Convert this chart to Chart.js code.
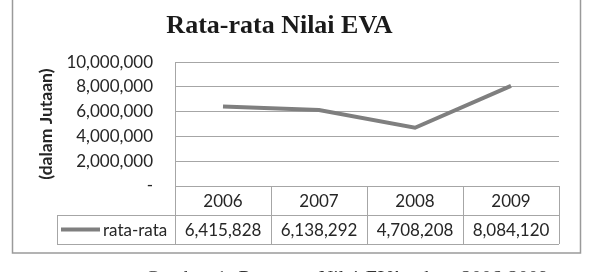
<!DOCTYPE html>
<html>
<head>
<meta charset="utf-8">
<script src="https://cdn.jsdelivr.net/npm/chart.js@4"></script>
<style>
    html, body { margin: 0; padding: 0; background: #fff; overflow: hidden; }
    #wrap { position: relative; width: 592px; height: 272px; }
    #caption {
        position: absolute; left: 145px; top: 267px;
        font-family: 'Liberation Serif', serif; font-size: 20px; color: #333;
        word-spacing: 2px; white-space: nowrap;
    }
</style>
</head>
<body>
<div id="wrap">
    <canvas id="evaChart" width="592" height="272"></canvas>
    <div id="caption">Gambar 1. Rata-rata Nilai EVA tahun 2006-2009</div>
</div>
<script>
const years = ['2006', '2007', '2008', '2009'];
const evaValues = [6415828, 6138292, 4708208, 8084120];
const seriesName = 'rata-rata';
const yMin = 0;
const yMax = 10000000;
const yStep = 2000000;

const fmt = new Intl.NumberFormat('en-US');
const lineGray = '#7f7f7f';
const borderGray = '#a6a6a6';
const textColor = '#262626';
const sansFont = 'Lato, "Open Sans", sans-serif';

// outer frame of the chart
const framePlugin = {
    id: 'frame',
    beforeDraw(chart) {
        const ctx = chart.ctx;
        ctx.save();
        ctx.strokeStyle = '#9a9a9a';
        ctx.lineWidth = 1.5;
        ctx.strokeRect(12.5, -1, 568, 254);
        ctx.restore();
    }
};

// data table under the plot (years + values + legend key)
const dataTablePlugin = {
    id: 'dataTable',
    afterDraw(chart) {
        const ctx = chart.ctx;
        const xs = chart.scales.x;
        const area = chart.chartArea;
        const colW = xs.width / years.length;
        const rowH = 29;
        const top = Math.round(area.bottom);
        const legendLeft = 57;

        ctx.save();
        ctx.strokeStyle = borderGray;
        ctx.lineWidth = 1;
        ctx.beginPath();
        // horizontal lines
        ctx.moveTo(area.left, top + 0.5); ctx.lineTo(area.right, top + 0.5);
        ctx.moveTo(legendLeft, top + rowH + 0.5); ctx.lineTo(area.right, top + rowH + 0.5);
        ctx.moveTo(legendLeft, top + 2 * rowH + 0.5); ctx.lineTo(area.right, top + 2 * rowH + 0.5);
        // vertical lines
        for (let i = 0; i <= years.length; i++) {
            const x = Math.round(area.left + i * colW) + 0.5;
            ctx.moveTo(x, top); ctx.lineTo(x, top + 2 * rowH);
        }
        ctx.moveTo(legendLeft + 0.5, top + rowH); ctx.lineTo(legendLeft + 0.5, top + 2 * rowH);
        ctx.stroke();

        ctx.fillStyle = textColor;
        ctx.font = '17px ' + sansFont;
        ctx.textAlign = 'center';
        ctx.textBaseline = 'middle';
        years.forEach((yr, i) => {
            const cx = xs.getPixelForValue(i);
            ctx.fillText(yr, cx, top + rowH / 2 + 1);
            ctx.fillText(fmt.format(evaValues[i]), cx, top + rowH * 1.5 + 1);
        });

        // legend key
        const ly = top + rowH * 1.5;
        ctx.strokeStyle = lineGray;
        ctx.lineWidth = 4;
        ctx.beginPath();
        ctx.moveTo(61, ly); ctx.lineTo(100, ly);
        ctx.stroke();
        ctx.textAlign = 'left';
        ctx.fillText(seriesName, 103, ly + 1);
        ctx.restore();
    }
};

const ctx = document.getElementById('evaChart').getContext('2d');
const chart = new Chart(ctx, {
    type: 'line',
    data: {
        labels: years,
        datasets: [{
            label: seriesName,
            data: evaValues,
            borderColor: lineGray,
            backgroundColor: lineGray,
            borderWidth: 4,
            pointRadius: 0,
            tension: 0,
            fill: false
        }]
    },
    options: {
        responsive: false,
        animation: false,
        devicePixelRatio: 1,
        layout: { padding: { left: 0, right: 33, top: 0, bottom: 86 } },
        plugins: {
            legend: { display: false },
            tooltip: { enabled: false },
            title: {
                display: true,
                text: 'Rata-rata Nilai EVA',
                color: '#1a1a1a',
                font: { family: '"Liberation Serif", serif', size: 26, weight: 'bold', lineHeight: 1.2 },
                padding: { top: 11, bottom: 20 }
            }
        },
        scales: {
            x: {
                display: false,
                offset: true
            },
            y: {
                min: yMin,
                max: yMax,
                afterFit(scale) { scale.width = 175; },
                border: { display: true, color: borderGray, width: 1 },
                grid: { color: borderGray, lineWidth: 1, drawTicks: false },
                ticks: {
                    stepSize: yStep,
                    padding: 22,
                    color: textColor,
                    font: { family: sansFont, size: 17 },
                    callback: v => v === 0 ? '-' : fmt.format(v)
                },
                title: {
                    display: true,
                    text: '(dalam Jutaan)',
                    color: textColor,
                    font: { family: sansFont, size: 17.5, weight: 'bold' },
                    padding: { top: 36, bottom: 0 }
                }
            }
        }
    },
    plugins: [framePlugin, dataTablePlugin]
});
</script>
</body>
</html>
